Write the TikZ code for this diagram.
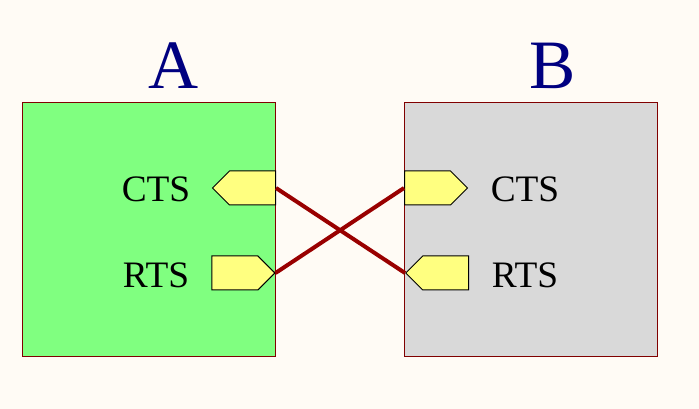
\documentclass[tikz,border=0pt]{standalone}
\usepackage{fontspec}
\setmainfont{Liberation Serif}
\usepackage{tikz}
\usetikzlibrary{shapes.symbols}

\definecolor{bgcol}{HTML}{FFFBF5}
\definecolor{greenbox}{HTML}{80FF80}
\definecolor{greybox}{HTML}{D9D9D9}
\definecolor{boxline}{HTML}{800000}
\definecolor{wirecol}{HTML}{990000}
\definecolor{portcol}{HTML}{FFFF80}
\definecolor{titlecol}{HTML}{000080}

\begin{document}
\begin{tikzpicture}[x=0.75pt,y=-0.75pt,
    unit/.style={draw=boxline, line width=0.75pt, rectangle, inner sep=0pt,
                 minimum width=189.75pt, minimum height=189.75pt},
    port/.style={draw=black, fill=portcol, line width=0.75pt, shape=signal,
                 signal pointer angle=90, inner sep=0pt,
                 minimum width=47.25pt, minimum height=25.5pt},
    sig/.style={font=\fontsize{28}{32}\selectfont, anchor=base},
    title/.style={font=\fontsize{52}{60}\selectfont, text=titlecol, anchor=base},
    wire/.style={draw=wirecol, line width=3pt}]
  \useasboundingbox (0,0) rectangle (699,409);
  \fill[bgcol] (0,0) rectangle (699,409);

  % units
  \node[unit, fill=greenbox] (boxA) at (148.5,229.5) {};
  \node[unit, fill=greybox] (boxB) at (531,229.5) {};
  \node[title] (titleA) at (173.5,89) {A};
  \node[title] (titleB) at (553,89) {B};

  % ports
  \foreach \n/\x/\y/\dir/\side in {
    ctsA/276/188/west/east,
    rtsA/275.5/273/east/east,
    ctsB/404/188/east/west,
    rtsB/405/273/west/west%
  } { \node[port, signal to=\dir, anchor=\side] (\n) at (\x,\y) {}; }

  % labels
  \foreach \n/\t/\x/\y in {
    ctsAlbl/CTS/156/201.5,
    rtsAlbl/RTS/156/288,
    ctsBlbl/CTS/525/201.5,
    rtsBlbl/RTS/525/288%
  } { \node[sig] (\n) at (\x,\y) {\t}; }

  % wires
  \draw[wire] (ctsA.east) -- (rtsB.west);
  \draw[wire] (rtsA.east) -- (ctsB.west);
\end{tikzpicture}
\end{document}
